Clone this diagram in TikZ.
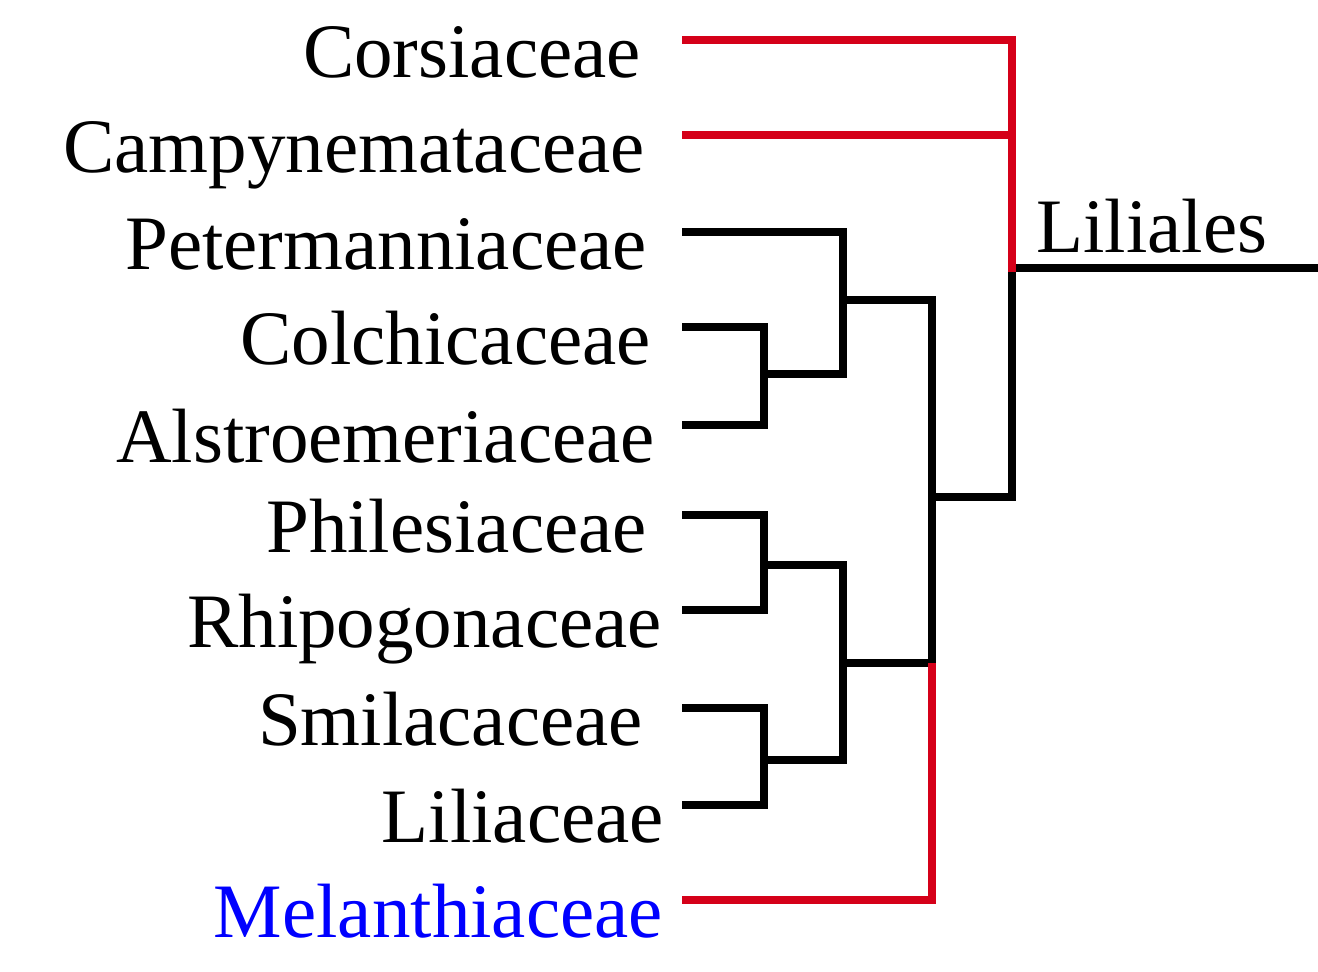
\documentclass[tikz,border=0pt]{standalone}
\usepackage{fontspec}
\setmainfont{Liberation Serif}
\definecolor{tred}{HTML}{D50019}
\definecolor{tblue}{HTML}{0000FF}
\begin{document}
\begin{tikzpicture}[x=1pt,y=-1pt,
  br/.style={line width=8pt,line cap=rect,line join=miter},
  lab/.style={anchor=base east,inner sep=0pt,font=\fontsize{77}{84}\selectfont}]
\useasboundingbox (0,0) rectangle (1318,972);
% labels
\node[lab] (l1) at (641,77) {Corsiaceae};
\node[lab] (l2) at (645,172) {Campynemataceae};
\node[lab] (l3) at (647,269) {Petermanniaceae};
\node[lab] (l4) at (651,364) {Colchicaceae};
\node[lab] (l5) at (655,462) {Alstroemeriaceae};
\node[lab] (l6) at (647,552) {Philesiaceae};
\node[lab] (l7) at (662,647) {Rhipogonaceae};
\node[lab] (l8) at (643,745) {Smilacaceae};
\node[lab] (l9) at (664,842) {Liliaceae};
\node[lab,text=tblue] (l10) at (663,937) {Melanthiaceae};
\node[anchor=base west,inner sep=0pt,font=\fontsize{77}{84}\selectfont] (lil) at (1036,252) {Liliales};
% tips
\coordinate (t1) at (686,40);
\coordinate (t2) at (686,135);
\coordinate (t3) at (686,232);
\coordinate (t4) at (686,327);
\coordinate (t5) at (686,425);
\coordinate (t6) at (686,515);
\coordinate (t7) at (686,610);
\coordinate (t8) at (686,708);
\coordinate (t9) at (686,805);
\coordinate (t10) at (686,900);
% internal nodes
\coordinate (a) at (764,374);
\coordinate (b) at (843,300);
\coordinate (c) at (764,565);
\coordinate (d) at (764,760);
\coordinate (e) at (843,663);
\coordinate (f) at (932,497);
\coordinate (m) at (932,667);
\coordinate (r) at (1012,268);
\coordinate (root) at (1318,268);
% black branches
\draw[br] (t4) -| (a);
\draw[br] (t5) -| (a);
\draw[br] (t3) -| (b);
\draw[br] (a) -| (b);
\draw[br] (t6) -| (c);
\draw[br] (t7) -| (c);
\draw[br] (t8) -| (d);
\draw[br] (t9) -| (d);
\draw[br] (c) -| (e);
\draw[br] (d) -| (e);
\draw[br] (b) -| (f);
\draw[br] (e) -| (f);
\draw[br] (r) |- (f);
\draw[br] (r) -- (root);
% red branches
\draw[br,tred] (t1) -| (r);
\draw[br,tred] (t2) -- (t2 -| r);
\draw[br,tred] (t10) -| (m);
\end{tikzpicture}
\end{document}
